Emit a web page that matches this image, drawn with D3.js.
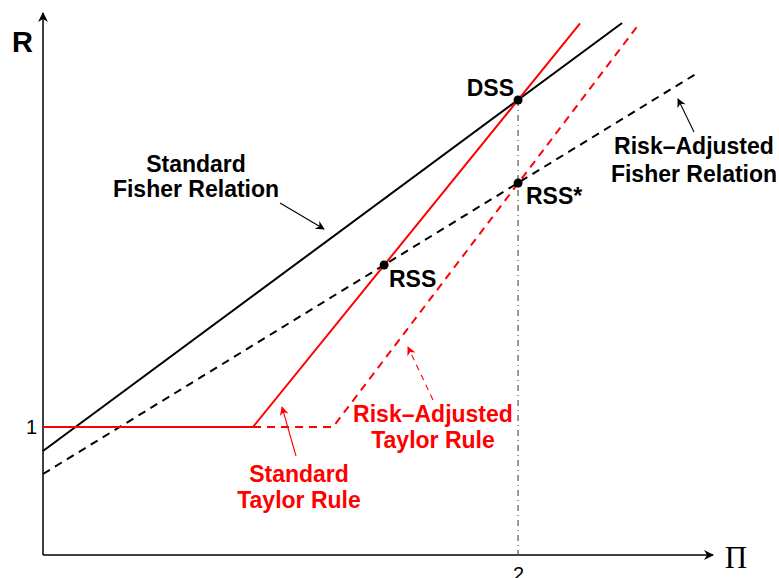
<!DOCTYPE html>
<html>
<head>
<meta charset="utf-8">
<script src="https://cdn.jsdelivr.net/npm/d3@7"></script>
<style>
  body { margin: 0; background: #fff; }
  svg { display: block; }
  .lbl { font-family: "Liberation Sans", Arial, sans-serif; font-weight: bold; font-size: 23px; }
</style>
</head>
<body>
<svg id="chart" width="779" height="578"></svg>
<script>
// ---- data (in model units) ----
const xTicks = [2];
const yTicks = [1];
const stdFisherX = [0, 2.438];
const stdFisherY = [0.813, 4.157];
const raFisherX = [0, 2.762];
const raFisherY = [0.633, 3.774];
const stdTaylorX = [0, 0.884, 2.261];
const stdTaylorY = [1, 1, 4.153];
const raTaylorX = [0, 1.221, 2.514];
const raTaylorY = [1, 1, 4.16];
const pointNames = ["DSS", "RSS", "RSS*"];
const pointX = [2, 1.436, 2];
const pointY = [3.555, 2.266, 2.906];

const svg = d3.select("#chart");
const x = d3.scaleLinear().domain([0, 2.808]).range([43, 710]);
const y = d3.scaleLinear().domain([0, 4.18]).range([555, 20]);

const defs = svg.append("defs");
function marker(id, color, w, h) {
  defs.append("marker").attr("id", id)
    .attr("viewBox", "0 0 10 10").attr("refX", 9).attr("refY", 5)
    .attr("markerWidth", w).attr("markerHeight", h)
    .attr("markerUnits", "userSpaceOnUse")
    .attr("orient", "auto")
    .append("path").attr("d", "M0,0 L10,5 L0,10 L3,5 Z").attr("fill", color);
}
marker("axArrow", "#000", 11, 10);
marker("blkArrow", "#000", 10, 9);
marker("redArrow", "#f00", 10, 9);

// axes
svg.append("line").attr("x1", x(0)).attr("y1", y(0)).attr("x2", x(0)).attr("y2", 13)
  .attr("stroke", "#000").attr("stroke-width", 1.5).attr("marker-end", "url(#axArrow)");
svg.append("line").attr("x1", x(0)).attr("y1", y(0)).attr("x2", 713).attr("y2", y(0))
  .attr("stroke", "#000").attr("stroke-width", 1.5).attr("marker-end", "url(#axArrow)");

const gx = svg.append("g").attr("transform", `translate(0,${y(0)})`)
  .call(d3.axisBottom(x).tickValues(xTicks).tickSize(0).tickPadding(12).tickFormat(d3.format("d")));
const gy = svg.append("g").attr("transform", `translate(${x(0)},0)`)
  .call(d3.axisLeft(y).tickValues(yTicks).tickSize(0).tickPadding(6).tickFormat(d3.format("d")));
[gx, gy].forEach(g => {
  g.select(".domain").remove();
  g.selectAll("text").attr("font-family", "Liberation Sans, Arial, sans-serif").attr("font-size", 20).attr("fill", "#000");
});

// vertical dash-dot line at x=2
svg.append("line").attr("x1", x(2)).attr("x2", x(2)).attr("y1", y(pointY[0])).attr("y2", y(0))
  .attr("stroke", "#555").attr("stroke-width", 1.2).attr("stroke-dasharray", "6,4,1,4");

const line = d3.line().x(d => x(d[0])).y(d => y(d[1]));
function drawSeries(xs, ys, color, dash) {
  svg.append("path").datum(xs.map((v, i) => [v, ys[i]])).attr("d", line)
    .attr("fill", "none").attr("stroke", color).attr("stroke-width", 2)
    .attr("stroke-dasharray", dash);
}
drawSeries(raTaylorX, raTaylorY, "#f00", "8,6");
drawSeries(raFisherX, raFisherY, "#000", "8,6");
drawSeries(stdFisherX, stdFisherY, "#000", null);
drawSeries(stdTaylorX, stdTaylorY, "#f00", null);

// points
svg.selectAll("circle.pt").data(pointX).join("circle").attr("class", "pt")
  .attr("cx", (d) => x(d)).attr("cy", (d, i) => y(pointY[i])).attr("r", 4.5).attr("fill", "#000");

// point labels
svg.append("text").attr("class", "lbl").attr("x", 514).attr("y", 96).attr("text-anchor", "end").text(pointNames[0]);
svg.append("text").attr("class", "lbl").attr("x", 389).attr("y", 287).text(pointNames[1]);
svg.append("text").attr("class", "lbl").attr("x", 526).attr("y", 204).text(pointNames[2]);

// axis labels
svg.append("text").attr("x", 12).attr("y", 52).attr("font-family", "Liberation Sans, Arial, sans-serif")
  .attr("font-weight", "bold").attr("font-size", 29).text("R");
svg.append("text").attr("x", 736).attr("y", 568).attr("text-anchor", "middle")
  .attr("font-family", "Liberation Serif, Times New Roman, serif").attr("font-size", 31).text("Π");

// annotations
function twoLine(cx, y1, y2, a, b, color) {
  const t = svg.append("text").attr("class", "lbl").attr("text-anchor", "middle").attr("fill", color);
  t.append("tspan").attr("x", cx).attr("y", y1).text(a);
  t.append("tspan").attr("x", cx).attr("y", y2).text(b);
}
twoLine(196, 172, 197, "Standard", "Fisher Relation", "#000");
twoLine(694, 154, 182, "Risk\u2013Adjusted", "Fisher Relation", "#000");
twoLine(433, 422, 448, "Risk\u2013Adjusted", "Taylor Rule", "#f00");
twoLine(299, 482, 508, "Standard", "Taylor Rule", "#f00");

function arrow(x1, y1, x2, y2, color, mk, dash) {
  svg.append("line").attr("x1", x1).attr("y1", y1).attr("x2", x2).attr("y2", y2)
    .attr("stroke", color).attr("stroke-width", 1.1).attr("stroke-dasharray", dash)
    .attr("marker-end", `url(#${mk})`);
}
arrow(280, 203, 324, 229, "#000", "blkArrow", null);
arrow(694, 132, 678, 99, "#000", "blkArrow", null);
arrow(433, 400, 408, 347, "#f00", "redArrow", "6,5");
arrow(296, 456, 282, 407, "#f00", "redArrow", null);
</script>
</body>
</html>
